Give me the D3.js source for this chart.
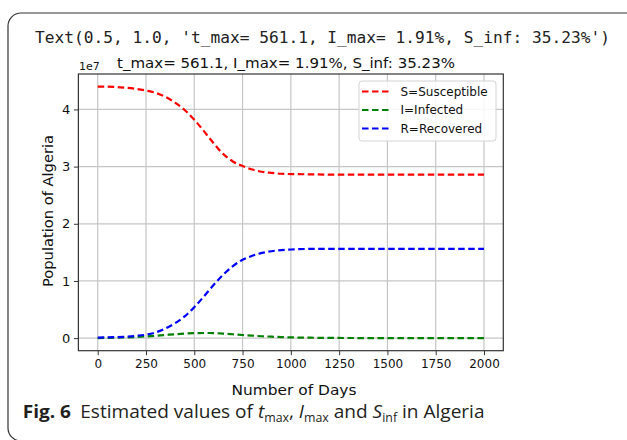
<!DOCTYPE html>
<html>
<head>
<meta charset="utf-8">
<script src="https://cdn.jsdelivr.net/npm/d3@7"></script>
<style>
  body { margin: 0; background: #fff; }
  svg { display: block; }
</style>
</head>
<body>
<div id="chart"></div>
<script>
// days and SIR compartments (units of 1e7 people)
const days = [0, 50, 100, 150, 200, 250, 300, 350, 400, 450, 500, 550, 600, 650, 700, 750, 800, 850, 900, 950, 1000, 1100, 1200, 1300, 1500, 1750, 2000];
const susceptible = [4.40, 4.40, 4.39, 4.38, 4.36, 4.33, 4.29, 4.22, 4.12, 3.99, 3.82, 3.62, 3.41, 3.22, 3.09, 3.01, 2.95, 2.91, 2.89, 2.875, 2.87, 2.865, 2.86, 2.86, 2.86, 2.86, 2.86];
const infected = [0.0, 0.004, 0.008, 0.013, 0.02, 0.03, 0.042, 0.055, 0.068, 0.079, 0.087, 0.09, 0.088, 0.08, 0.068, 0.055, 0.043, 0.033, 0.025, 0.018, 0.013, 0.007, 0.004, 0.002, 0.001, 0, 0];
const recovered = [0.01, 0.013, 0.018, 0.026, 0.04, 0.06, 0.10, 0.17, 0.26, 0.38, 0.54, 0.73, 0.93, 1.11, 1.26, 1.37, 1.44, 1.49, 1.52, 1.54, 1.55, 1.56, 1.56, 1.56, 1.56, 1.56, 1.56];

const seriesNames = ["S=Susceptible", "I=Infected", "R=Recovered"];
const seriesColors = ["#ff0000", "#008000", "#0000ff"];
const xTicks = [0, 250, 500, 750, 1000, 1250, 1500, 1750, 2000];
const yTicks = [0, 1, 2, 3, 4];

const width = 627, height = 440;
const plot = {left: 78.4, right: 503.3, top: 74, bottom: 350.7};

const svg = d3.select("#chart").append("svg")
    .attr("width", width)
    .attr("height", height);

// rounded frame around the figure
svg.append("rect")
    .attr("x", 8).attr("y", 13)
    .attr("width", 700).attr("height", 428)
    .attr("rx", 13)
    .attr("fill", "none")
    .attr("stroke", "#333")
    .attr("stroke-width", 1.2);

svg.append("text")
    .attr("x", 35).attr("y", 43)
    .attr("font-family", "DejaVu Sans Mono")
    .attr("font-size", 15.4)
    .attr("fill", "#222")
    .attr("textLength", 575)
    .attr("lengthAdjust", "spacingAndGlyphs")
    .text("Text(0.5, 1.0, 't_max= 561.1, I_max= 1.91%, S_inf: 35.23%')");

const x = d3.scaleLinear().domain([-100, 2100]).range([plot.left, plot.right]);
const y = d3.scaleLinear().domain([-0.22, 4.62]).range([plot.bottom, plot.top]);

// grid
const grid = svg.append("g").attr("stroke", "#c6c6c6").attr("stroke-width", 1.2);
grid.selectAll(".gx").data(xTicks).enter().append("line")
    .attr("x1", d => x(d)).attr("x2", d => x(d))
    .attr("y1", plot.top).attr("y2", plot.bottom);
grid.selectAll(".gy").data(yTicks).enter().append("line")
    .attr("y1", d => y(d)).attr("y2", d => y(d))
    .attr("x1", plot.left).attr("x2", plot.right);

// axes
const xAxis = svg.append("g")
    .attr("transform", `translate(0,${plot.bottom})`)
    .call(d3.axisBottom(x).tickValues(xTicks).tickFormat(d3.format("d")).tickSize(4.5).tickPadding(4));
const yAxis = svg.append("g")
    .attr("transform", `translate(${plot.left},0)`)
    .call(d3.axisLeft(y).tickValues(yTicks).tickFormat(d3.format("d")).tickSize(4.5).tickPadding(3.5));

[xAxis, yAxis].forEach(a => {
  a.select(".domain").remove();
  a.selectAll("line").attr("stroke", "#333").attr("stroke-width", 1);
  a.selectAll("text")
      .attr("font-family", "DejaVu Sans")
      .attr("font-size", 12)
      .attr("fill", "#111");
});
yAxis.selectAll("text").attr("font-size", 13);

const keys = [susceptible, infected, recovered];
svg.append("clipPath").attr("id", "clip")
  .append("rect")
    .attr("x", plot.left).attr("y", plot.top)
    .attr("width", plot.right - plot.left).attr("height", plot.bottom - plot.top);

const line = d3.line()
    .x(d => x(d[0]))
    .y(d => y(d[1]))
    .curve(d3.curveMonotoneX);

svg.append("g").attr("clip-path", "url(#clip)")
  .selectAll("path")
  .data(keys)
  .enter().append("path")
    .attr("d", vals => line(days.map((t, i) => [t, vals[i]])))
    .attr("fill", "none")
    .attr("stroke", (d, i) => seriesColors[i])
    .attr("stroke-width", 2.2)
    .attr("stroke-dasharray", "6.5,3.5");

// spines
svg.append("rect")
    .attr("x", plot.left).attr("y", plot.top)
    .attr("width", plot.right - plot.left).attr("height", plot.bottom - plot.top)
    .attr("fill", "none")
    .attr("stroke", "#333")
    .attr("stroke-width", 1.2);

// legend
const legend = svg.append("g");
legend.append("rect")
    .attr("x", 359).attr("y", 81)
    .attr("width", 137).attr("height", 60)
    .attr("rx", 3)
    .attr("fill", "#fff")
    .attr("fill-opacity", 0.85)
    .attr("stroke", "#d4d4d4");
const rows = legend.selectAll(".row").data(seriesNames).enter().append("g")
    .attr("transform", (d, i) => `translate(0,${91.5 + i * 18.5})`);
rows.append("line")
    .attr("x1", 362).attr("x2", 388.5)
    .attr("stroke", (d, i) => seriesColors[i])
    .attr("stroke-width", 2.2)
    .attr("stroke-dasharray", "6.5,3.5");
rows.append("text")
    .attr("x", 400.5).attr("dy", "0.35em")
    .attr("font-family", "DejaVu Sans")
    .attr("font-size", 12)
    .attr("fill", "#111")
    .text(d => d);

// titles and labels
svg.append("text")
    .attr("x", 117).attr("y", 68)
    .attr("font-family", "DejaVu Sans")
    .attr("font-size", 14)
    .attr("fill", "#111")
    .attr("textLength", 338)
    .attr("lengthAdjust", "spacingAndGlyphs")
    .text("t_max= 561.1, I_max= 1.91%, S_inf: 35.23%");

svg.append("text")
    .attr("x", 79).attr("y", 70)
    .attr("font-family", "DejaVu Sans")
    .attr("font-size", 11)
    .attr("fill", "#111")
    .text("1e7");

svg.append("text")
    .attr("x", 294).attr("y", 395)
    .attr("text-anchor", "middle")
    .attr("font-family", "DejaVu Sans")
    .attr("font-size", 14.5)
    .attr("fill", "#111")
    .attr("textLength", 125)
    .attr("lengthAdjust", "spacingAndGlyphs")
    .text("Number of Days");

svg.append("text")
    .attr("transform", "translate(53,211) rotate(-90)")
    .attr("text-anchor", "middle")
    .attr("font-family", "DejaVu Sans")
    .attr("font-size", 14)
    .attr("fill", "#111")
    .attr("textLength", 152)
    .attr("lengthAdjust", "spacingAndGlyphs")
    .text("Population of Algeria");

// caption
const cap = svg.append("text")
    .attr("font-family", "Open Sans")
    .attr("font-size", 18.5)
    .attr("fill", "#231f20");
cap.append("tspan").attr("font-weight", "bold").text("Fig. 6");
cap.append("tspan").attr("dx", 9).text("Estimated values of ");
cap.append("tspan").attr("font-style", "italic").text("t");
cap.append("tspan").attr("font-size", 12).attr("dy", 4).text("max");
cap.append("tspan").attr("dy", -4).text(", ");
cap.append("tspan").attr("font-style", "italic").text("I");
cap.append("tspan").attr("font-size", 12).attr("dy", 4).text("max");
cap.append("tspan").attr("dy", -4).text(" and ");
cap.append("tspan").attr("font-style", "italic").text("S");
cap.append("tspan").attr("font-size", 12).attr("dy", 4).text("inf");
cap.append("tspan").attr("dy", -4).text(" in Algeria");
const capW = cap.node().getComputedTextLength();
cap.attr("transform", `translate(22.7,418) scale(${453 / capW},1)`);
</script>
</body>
</html>
